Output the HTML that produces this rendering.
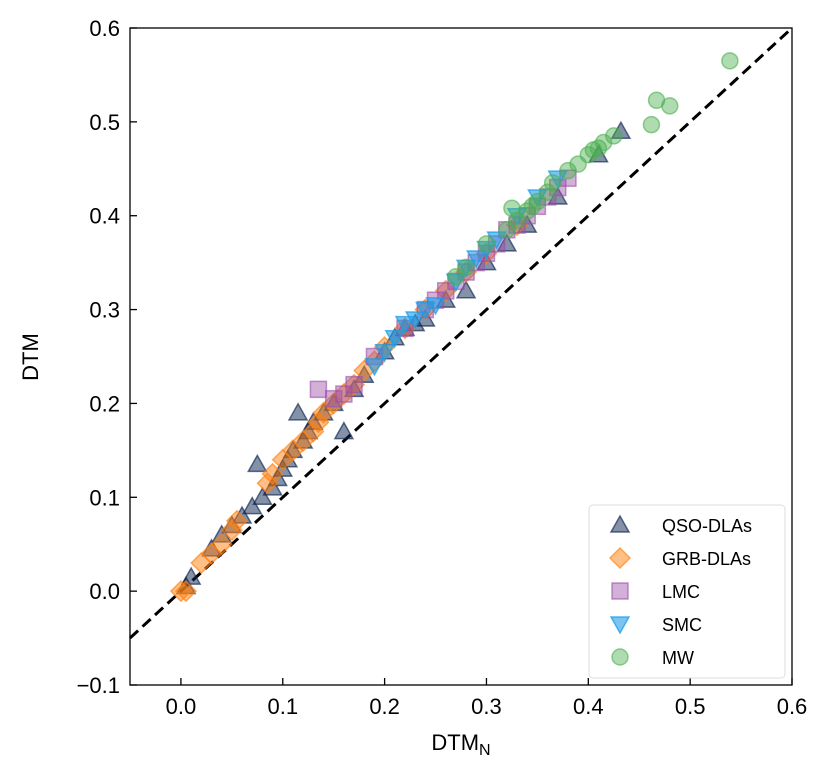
<!DOCTYPE html>
<html><head><meta charset="utf-8">
<style>
body{margin:0;background:#fff;}
svg text{font-family:"Liberation Sans","DejaVu Sans",sans-serif;}
</style></head>
<body>
<svg id="chart" width="831" height="773" viewBox="0 0 831 773" xmlns="http://www.w3.org/2000/svg">
<g id="marks"></g>
<g id="axes"></g>
</svg>
<script>
const xTicks=[0.0,0.1,0.2,0.3,0.4,0.5,0.6];
const yTicks=[-0.1,0.0,0.1,0.2,0.3,0.4,0.5,0.6];
const qsoX=[0.005,0.01,0.03,0.04,0.05,0.06,0.07,0.075,0.08,0.09,0.095,0.1,0.105,0.11,0.115,0.12,0.125,0.13,0.14,0.15,0.16,0.17,0.18,0.2,0.21,0.22,0.23,0.24,0.26,0.28,0.3,0.32,0.34,0.37,0.41,0.432];
const qsoY=[0.005,0.015,0.045,0.06,0.07,0.08,0.09,0.135,0.1,0.11,0.12,0.13,0.14,0.15,0.19,0.16,0.17,0.18,0.19,0.2,0.17,0.215,0.23,0.255,0.27,0.28,0.285,0.29,0.31,0.32,0.35,0.37,0.39,0.42,0.465,0.49];
const grbX=[0.0,0.005,0.02,0.03,0.04,0.05,0.055,0.085,0.09,0.1,0.11,0.12,0.13,0.135,0.14,0.15,0.16,0.17,0.18,0.19,0.2,0.22,0.24,0.26,0.28,0.3,0.33];
const grbY=[0.0,0.0,0.03,0.04,0.05,0.065,0.075,0.115,0.125,0.14,0.15,0.16,0.17,0.18,0.19,0.2,0.21,0.22,0.235,0.245,0.26,0.28,0.3,0.32,0.34,0.36,0.39];
const lmcX=[0.135,0.15,0.16,0.17,0.19,0.22,0.24,0.25,0.26,0.27,0.28,0.29,0.3,0.31,0.32,0.33,0.34,0.35,0.36,0.37,0.38];
const lmcY=[0.215,0.205,0.21,0.22,0.25,0.28,0.3,0.31,0.32,0.33,0.34,0.35,0.36,0.37,0.385,0.39,0.4,0.41,0.42,0.43,0.44];
const smcX=[0.19,0.2,0.21,0.22,0.23,0.24,0.25,0.27,0.28,0.29,0.3,0.31,0.33,0.35,0.37];
const smcY=[0.24,0.255,0.27,0.285,0.29,0.3,0.305,0.33,0.345,0.355,0.365,0.375,0.4,0.42,0.44];
const mwX=[0.27,0.28,0.3,0.32,0.325,0.33,0.34,0.345,0.35,0.36,0.365,0.38,0.39,0.4,0.405,0.41,0.415,0.425,0.462,0.467,0.48,0.539];
const mwY=[0.335,0.345,0.37,0.385,0.408,0.395,0.405,0.41,0.415,0.425,0.435,0.448,0.455,0.465,0.47,0.472,0.478,0.485,0.497,0.523,0.517,0.565];
const X0=130,X1=792,Y0=28,Y1=685,xmin=-0.05,xmax=0.6,ymin=-0.1,ymax=0.6;
const sx=v=>X0+(v-xmin)/(xmax-xmin)*(X1-X0);
const sy=v=>Y1-(v-ymin)/(ymax-ymin)*(Y1-Y0);
const NS="http://www.w3.org/2000/svg";
const marks=document.getElementById('marks'),axes=document.getElementById('axes');
function mk(tag,attrs,parent){const e=document.createElementNS(NS,tag);for(const k in attrs)e.setAttribute(k,attrs[k]);parent.appendChild(e);return e;}
function shape(type,cx,cy,fill,stroke,op,parent){
  let e;
  if(type==='tri')e=mk('polygon',{points:`${cx},${cy-9} ${cx-9},${cy+7} ${cx+9},${cy+7}`},parent);
  else if(type==='dtri')e=mk('polygon',{points:`${cx},${cy+9} ${cx-9},${cy-7} ${cx+9},${cy-7}`},parent);
  else if(type==='dia')e=mk('polygon',{points:`${cx},${cy-10} ${cx+10},${cy} ${cx},${cy+10} ${cx-10},${cy}`},parent);
  else if(type==='sq')e=mk('rect',{x:cx-8,y:cy-8,width:16,height:16},parent);
  else e=mk('circle',{cx:cx,cy:cy,r:8},parent);
  e.setAttribute('fill',fill);e.setAttribute('fill-opacity',op);e.setAttribute('stroke',stroke);e.setAttribute('stroke-opacity',op+0.15);e.setAttribute('stroke-width',1.5);
  return e;
}
const series=[
 {name:'QSO-DLAs',type:'tri',xs:qsoX,ys:qsoY,fill:'#0c2350',stroke:'#0c2350',op:0.5},
 {name:'GRB-DLAs',type:'dia',xs:grbX,ys:grbY,fill:'#ff7f0e',stroke:'#ff7f0e',op:0.5},
 {name:'LMC',type:'sq',xs:lmcX,ys:lmcY,fill:'#9b4fa8',stroke:'#9b4fa8',op:0.45},
 {name:'SMC',type:'dtri',xs:smcX,ys:smcY,fill:'#1e9ee8',stroke:'#1e9ee8',op:0.6},
 {name:'MW',type:'circ',xs:mwX,ys:mwY,fill:'#4caf50',stroke:'#4caf50',op:0.45}
];
const dl=mk('line',{x1:sx(-0.05),y1:sy(-0.05),x2:sx(0.6),y2:sy(0.6),stroke:'#000','stroke-width':3,'stroke-dasharray':'11,6'},marks);


series.forEach(s=>{
  s.xs.forEach((v,i)=>{
    const e=shape(s.type,sx(v),sy(s.ys[i]),s.fill,s.stroke,s.op,marks);
    
    
  });
});
const fr=mk('rect',{x:X0,y:Y0,width:X1-X0,height:Y1-Y0,fill:'none',stroke:'#000','stroke-width':1.3},axes);


xTicks.forEach(t=>{
  const x=sx(t);
  const l=mk('line',{x1:x,y1:Y1,x2:x,y2:Y1-7,stroke:'#000','stroke-width':1.3},axes);
  
  
  const tx=mk('text',{x:x,y:Y1+29,'font-size':22,'text-anchor':'middle'},axes);tx.textContent=t.toFixed(1);
  
  
});
yTicks.forEach(t=>{
  const y=sy(t);
  const l=mk('line',{x1:X0,y1:y,x2:X0+7,y2:y,stroke:'#000','stroke-width':1.3},axes);
  
  
  const tx=mk('text',{x:X0-10,y:y+8,'font-size':22,'text-anchor':'end'},axes);tx.textContent=(t<0?'\u2212':'')+Math.abs(t).toFixed(1);
  
  
});
const xt=mk('text',{x:461,y:750,'font-size':22,'text-anchor':'middle'},axes);
xt.innerHTML='DTM<tspan font-size="16" dy="5">N</tspan>';


const yt=mk('text',{x:38,y:357,'font-size':22,'text-anchor':'middle',transform:'rotate(-90 38 357)'},axes);
yt.textContent='DTM';


const lg=mk('g',{},axes);


const lb=mk('rect',{x:589,y:505,width:196,height:173,rx:4,fill:'#fff','fill-opacity':0.8,stroke:'#ddd'},lg);


series.forEach((s,i)=>{
  const y=525+i*33;
  const e=shape(s.type,620,y,s.fill,s.stroke,s.op,lg);
  
  
  const t=mk('text',{x:662,y:y+7,'font-size':18},lg);t.textContent=s.name;
  
  
});
</script>
</body></html>
